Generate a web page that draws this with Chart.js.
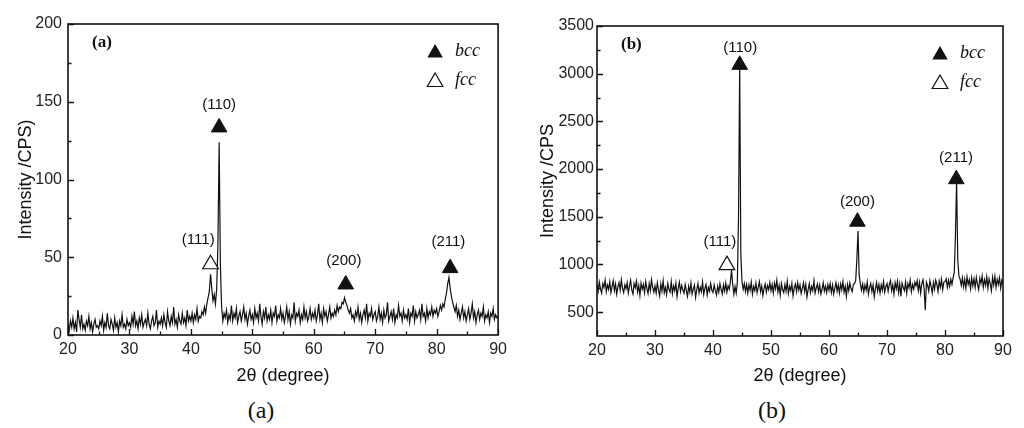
<!DOCTYPE html>
<html>
<head>
<meta charset="utf-8">
<script src="https://cdn.jsdelivr.net/npm/chart.js@4.4.1/dist/chart.umd.min.js"></script>
<style>
  body { margin: 0; background: #fff; }
  #wrap { position: relative; width: 1024px; height: 428px; overflow: hidden; background: #fff; }
  canvas { position: absolute; top: 0; }
  #chartA { left: 0; }
  #chartB { left: 512px; }
  .caption { position: absolute; top: 396px; line-height: 28px; font-size: 24px; color: #111;
             font-family: "Liberation Serif", "Times New Roman", serif; transform: translateX(-50%); }
</style>
</head>
<body>
<div id="wrap">
  <canvas id="chartA" width="512" height="390"></canvas>
  <canvas id="chartB" width="512" height="390"></canvas>
  <div class="caption" style="left:261px">(a)</div>
  <div class="caption" style="left:772px">(b)</div>
</div>
<script>
// 2-theta sampling of both scans
const thetaStart = 20;
const thetaStep = 0.2;

const xTicks = [20, 30, 40, 50, 60, 70, 80, 90];
const xMinorTicks = [25, 35, 45, 55, 65, 75, 85];
const yTicksA = [0, 50, 100, 150, 200];
const yMinorTicksA = [25, 75, 125, 175];
const yTicksB = [500, 1000, 1500, 2000, 2500, 3000, 3500];
const yMinorTicksB = [750, 1250, 1750, 2250, 2750, 3250];

// panel (a), one row per 5 degrees
const intensityA = [
  7, 3, 9, 5, 11, 4, 8, 2, 16, 10, 5, 13, 4, 7, 3, 9, 6, 12, 4, 8, 2, 7, 10, 5, 6,
  4, 9, 6, 12, 3, 8, 5, 14, 6, 4, 10, 7, 3, 11, 5, 8, 2, 9, 6, 13, 5, 7, 4, 10, 6,
  8, 5, 12, 7, 15, 6, 9, 4, 11, 7, 13, 5, 8, 10, 6, 14, 7, 4, 9, 12, 6, 8, 16, 5, 9,
  7, 11, 6, 13, 8, 5, 15, 9, 6, 12, 8, 18, 7, 10, 5, 13, 9, 7, 14, 8, 11, 6, 16, 9, 12,
  9, 14, 8, 13, 10, 17, 9, 12, 11, 15, 13, 18, 14, 20, 24, 28, 39, 30, 22, 26, 20, 30, 58, 124, 45,
  18, 9, 14, 11, 16, 8, 13, 10, 19, 9, 14, 11, 17, 8, 12, 15, 9, 13, 18, 10, 14, 7, 12, 16, 10,
  13, 8, 17, 11, 14, 9, 20, 12, 7, 15, 11, 18, 9, 13, 10, 16, 8, 14, 12, 19, 9, 13, 11, 17, 10,
  14, 8, 12, 18, 10, 15, 7, 13, 11, 21, 9, 14, 12, 16, 8, 13, 10, 18, 11, 15, 9, 12, 17, 10, 14,
  11, 16, 9, 13, 20, 10, 14, 8, 17, 12, 15, 9, 13, 18, 11, 14, 12, 16, 13, 19, 15, 18, 17, 21, 20,
  24, 21, 19, 16, 14, 17, 11, 13, 9, 15, 12, 18, 10, 14, 8, 13, 16, 11, 20, 9, 14, 12, 17, 10, 13,
  15, 9, 12, 18, 10, 14, 8, 16, 11, 13, 21, 9, 12, 15, 10, 17, 8, 13, 11, 19, 12, 14, 9, 16, 11,
  13, 10, 17, 8, 14, 12, 19, 9, 15, 11, 13, 16, 10, 20, 12, 14, 9, 17, 11, 15, 13, 18, 12, 16, 14,
  17, 12, 15, 19, 16, 20, 18, 23, 27, 33, 37, 30, 25, 21, 18, 15, 19, 12, 16, 10, 14, 18, 11, 15, 9,
  13, 17, 10, 14, 20, 11, 15, 8, 13, 16, 10, 14, 12, 18, 9, 13, 11, 15, 8, 14, 12, 17, 10, 13, 11,
  12
];

// panel (b), one row per 5 degrees
const intensityB = [
  790, 720, 815, 745, 700, 800, 760, 835, 715, 785, 740, 820, 705, 770, 830, 725, 795, 690, 765, 810, 730, 840, 750, 705, 785,
  745, 810, 700, 775, 835, 730, 690, 800, 755, 825, 710, 780, 675, 805, 740, 790, 705, 820, 750, 695, 800, 725, 840, 760, 710,
  775, 700, 810, 735, 670, 795, 720, 830, 705, 760, 685, 800, 740, 710, 820, 695, 775, 725, 805, 665, 750, 815, 715, 780, 735,
  700, 790, 725, 665, 770, 710, 805, 690, 745, 785, 655, 735, 800, 700, 760, 715, 815, 685, 750, 790, 680, 760, 720, 800, 730,
  705, 785, 725, 680, 770, 710, 800, 740, 690, 785, 720, 805, 710, 775, 740, 820, 940, 790, 690, 770, 700, 810, 1500, 3080, 1100,
  820, 740, 800, 715, 790, 700, 785, 730, 815, 690, 770, 725, 805, 705, 760, 820, 715, 775, 675, 750, 795, 710, 780, 735, 810,
  725, 790, 700, 805, 745, 835, 710, 780, 680, 800, 735, 705, 790, 720, 825, 695, 770, 725, 800, 670, 755, 795, 715, 810, 730,
  785, 695, 750, 810, 715, 790, 660, 735, 800, 705, 770, 725, 830, 700, 755, 795, 715, 785, 690, 740, 810, 720, 770, 705, 790,
  730, 800, 705, 785, 690, 750, 810, 720, 785, 700, 795, 735, 820, 710, 770, 665, 790, 725, 805, 745, 715, 790, 800, 830, 1050,
  1350, 890, 800, 730, 795, 710, 785, 730, 815, 690, 760, 800, 715, 785, 660, 745, 810, 720, 790, 700, 785, 730, 820, 710, 770,
  800, 720, 790, 830, 725, 785, 690, 810, 745, 825, 705, 795, 665, 805, 760, 725, 815, 700, 800, 755, 835, 715, 790, 740, 815,
  775, 830, 725, 810, 700, 800, 840, 745, 520, 815, 780, 720, 830, 770, 700, 810, 740, 835, 790, 715, 825, 760, 845, 735, 815,
  820, 850, 760, 835, 770, 845, 790, 860, 920, 1300, 1880, 1050, 880, 845, 780, 860, 765, 845, 750, 870, 790, 840, 745, 860, 775,
  850, 760, 865, 790, 735, 855, 800, 880, 760, 840, 780, 870, 750, 850, 800, 725, 865, 785, 875, 760, 845, 790, 860, 750, 835,
  800
];

// peak annotations, (a)
const peakNamesA = ['(110)', '(111)', '(200)', '(211)'];
const peakNameXA = [44.6, 41.2, 64.9, 81.9];
const peakNameYA = [148, 61, 48, 60];
const bccXA = [44.6, 65.2, 82.2];
const bccYA = [133.5, 32.5, 43];
const fccXA = [43.2];
const fccYA = [45.5];

// peak annotations, (b)
const peakNamesB = ['(110)', '(111)', '(200)', '(211)'];
const peakNameXB = [44.7, 41.2, 64.9, 81.9];
const peakNameYB = [3267, 1237, 1656, 2114];
const bccXB = [44.6, 64.9, 81.95];
const bccYB = [3093, 1448, 1894];
const fccXB = [42.4];
const fccYB = [993];

const sans = '"Liberation Sans", Arial, sans-serif';
const serif = '"Liberation Serif", "Times New Roman", serif';
const ink = '#111';

function drawTri(ctx, cx, cy, r, filled) {
    ctx.beginPath();
    for (let k = 0; k < 3; k++) {
        const a = k * 2 * Math.PI / 3;
        const px = cx + Math.sin(a) * r, py = cy - Math.cos(a) * r;
        if (k === 0) ctx.moveTo(px, py); else ctx.lineTo(px, py);
    }
    ctx.closePath();
    if (filled) { ctx.fillStyle = ink; ctx.fill(); }
    else { ctx.fillStyle = '#fff'; ctx.fill(); ctx.lineWidth = 1.2; ctx.strokeStyle = ink; ctx.stroke(); }
}

// frame, inward ticks, peak names, panel tag and phase legend
const xrdNotes = {
    id: 'xrdNotes',
    afterDraw(chart, args, o) {
        const {ctx, chartArea: a} = chart;
        const sx = chart.scales.x, sy = chart.scales.y;
        ctx.save();
        ctx.strokeStyle = ink;
        ctx.lineWidth = 1.3;
        ctx.beginPath();
        const tickX = (vals, len) => vals.forEach(v => {
            const px = Math.round(sx.getPixelForValue(v)) + 0.5;
            ctx.moveTo(px, a.bottom); ctx.lineTo(px, a.bottom - len);
        });
        const tickY = (vals, len) => vals.forEach(v => {
            const py = Math.round(sy.getPixelForValue(v)) + 0.5;
            ctx.moveTo(a.left, py); ctx.lineTo(a.left + len, py);
        });
        tickX(xTicks, 6); tickX(xMinorTicks, 3.5);
        tickY(o.yTicks, 6); tickY(o.yMinor, 3.5);
        ctx.stroke();

        ctx.lineWidth = 1.6;
        ctx.strokeRect(a.left, a.top, a.right - a.left, a.bottom - a.top);

        ctx.fillStyle = ink;
        ctx.font = '15px ' + sans;
        ctx.textAlign = 'center';
        ctx.textBaseline = 'middle';
        o.names.forEach((t, i) => {
            ctx.fillText(t, sx.getPixelForValue(o.nameX[i]), sy.getPixelForValue(o.nameY[i]));
        });

        ctx.textAlign = 'left';
        ctx.font = 'bold 17px ' + serif;
        ctx.fillText(o.tag, a.left + 24, a.top + 19);

        drawTri(ctx, a.right - 63, a.top + 29, 9, true);
        drawTri(ctx, a.right - 63, a.top + 58, 9, false);
        ctx.fillStyle = ink;
        ctx.font = 'italic 18px ' + serif;
        ctx.fillText('bcc', a.right - 43, a.top + 27);
        ctx.fillText('fcc', a.right - 43, a.top + 56);
        ctx.restore();
    }
};

function makeChart(id, p) {
    const points = p.intensity.map((v, i) => ({x: thetaStart + i * thetaStep, y: v}));
    const pairs = (xs, ys) => xs.map((v, i) => ({x: v, y: ys[i]}));
    return new Chart(document.getElementById(id), {
        type: 'scatter',
        data: {
            datasets: [
                {
                    label: 'bcc', data: pairs(p.bccX, p.bccY), order: 0, clip: false,
                    pointStyle: 'triangle', radius: 9, backgroundColor: ink, borderColor: ink, borderWidth: 1
                },
                {
                    label: 'fcc', data: pairs(p.fccX, p.fccY), order: 0, clip: false,
                    pointStyle: 'triangle', radius: 9, backgroundColor: '#fff', borderColor: ink, borderWidth: 1.2
                },
                {
                    label: 'XRD', data: points, order: 1, showLine: true,
                    borderColor: ink, borderWidth: 1.2, pointRadius: 0, tension: 0
                }
            ]
        },
        options: {
            responsive: false,
            animation: false,
            layout: {padding: p.pad},
            plugins: {
                legend: {display: false},
                tooltip: {enabled: false},
                xrdNotes: {
                    yTicks: p.yTicks, yMinor: p.yMinor, tag: p.tag,
                    names: p.names, nameX: p.nameX, nameY: p.nameY
                }
            },
            scales: {
                x: {
                    type: 'linear', min: 20, max: 90,
                    afterBuildTicks: s => { s.ticks = xTicks.map(v => ({value: v})); },
                    afterFit: s => { s.height = p.xAxisHeight; },
                    grid: {display: false, drawTicks: false},
                    border: {display: false},
                    ticks: {color: '#222', font: {family: sans, size: 16}, padding: 5, maxRotation: 0, autoSkip: false,
                            callback: v => String(v)},
                    title: {display: true, text: '2θ (degree)', color: ink, font: {family: sans, size: 18}, padding: {top: 0, bottom: 3}}
                },
                y: {
                    type: 'linear', min: p.yMin, max: p.yMax,
                    afterBuildTicks: s => { s.ticks = p.yTicks.map(v => ({value: v})); },
                    afterFit: s => { s.width = p.yAxisWidth; },
                    grid: {display: false, drawTicks: false},
                    border: {display: false},
                    ticks: {color: '#222', font: {family: sans, size: 16}, padding: p.yTickPad, autoSkip: false,
                            callback: v => String(v)},
                    title: {display: true, text: p.yTitle, color: ink, font: {family: sans, size: 18}, padding: {top: p.yTitlePad, bottom: 0}}
                }
            }
        },
        plugins: [xrdNotes]
    });
}

makeChart('chartA', {
    intensity: intensityA, yMin: 0, yMax: 200, yTicks: yTicksA, yMinor: yMinorTicksA,
    bccX: bccXA, bccY: bccYA, fccX: fccXA, fccY: fccYA,
    names: peakNamesA, nameX: peakNameXA, nameY: peakNameYA,
    tag: '(a)', yTitle: 'Intensity /CPS)',
    pad: {top: 24, right: 12, left: 0, bottom: 0},
    yAxisWidth: 68, xAxisHeight: 55, yTickPad: 6, yTitlePad: 15
});

makeChart('chartB', {
    intensity: intensityB, yMin: 250, yMax: 3500, yTicks: yTicksB, yMinor: yMinorTicksB,
    bccX: bccXB, bccY: bccYB, fccX: fccXB, fccY: fccYB,
    names: peakNamesB, nameX: peakNameXB, nameY: peakNameYB,
    tag: '(b)', yTitle: 'Intensity /CPS',
    pad: {top: 26, right: 21, left: 0, bottom: 0},
    yAxisWidth: 85, xAxisHeight: 54, yTickPad: 3, yTitlePad: 25
});
</script>
</body>
</html>
